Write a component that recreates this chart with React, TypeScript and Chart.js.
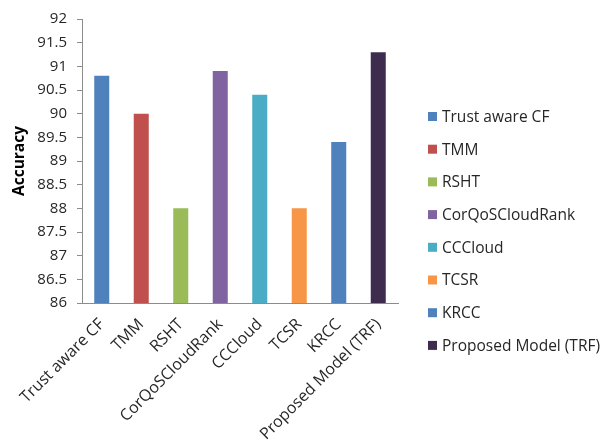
import { useEffect, useRef } from 'react';
import { Chart, registerables } from 'chart.js';

Chart.register(...registerables);

// Model names shown along the x axis and in the side legend
const categories = [
  'Trust aware CF',
  'TMM',
  'RSHT',
  'CorQoSCloudRank',
  'CCCloud',
  'TCSR',
  'KRCC',
  'Proposed Model (TRF)',
];

// Accuracy of each model
const accuracy = [90.8, 90.0, 88.0, 90.9, 90.4, 88.0, 89.4, 91.3];

// One fill per model
const barColors = ['#4F81BD', '#C0504D', '#9BBB59', '#8064A2', '#4BACC6', '#F79646', '#4F81BD', '#3E2C4F'];

// Value axis range
const yMin = 86;
const yMax = 92;
const yStep = 0.5;

const FONT = '"Open Sans", "Liberation Sans", sans-serif';
const TEXT = '#262626';
const AXIS = '#8C8C8C';

// Draws a one-column legend to the right of the plot
const sideLegend = {
  id: 'sideLegend',
  afterDraw(chart: any) {
    const { ctx, chartArea } = chart;
    ctx.save();
    ctx.font = `15.5px ${FONT}`;
    ctx.textBaseline = 'middle';
    ctx.textAlign = 'left';
    categories.forEach((name, i) => {
      const y = chartArea.top + 97.5 + i * 32.7;
      ctx.fillStyle = barColors[i];
      ctx.fillRect(chartArea.right + 30, y - 4.5, 9, 9);
      ctx.fillStyle = TEXT;
      ctx.fillText(name, chartArea.right + 44, y + 1);
    });
    ctx.restore();
  },
};

export default function App() {
  const canvasRef = useRef<HTMLCanvasElement | null>(null);

  useEffect(() => {
    document.body.style.margin = '0';
    const canvas = canvasRef.current;
    if (!canvas) return;

    const chart = new Chart(canvas, {
      type: 'bar',
      data: {
        labels: categories,
        datasets: [
          {
            label: 'Accuracy',
            data: accuracy,
            backgroundColor: barColors,
            categoryPercentage: 1,
            barPercentage: 0.38,
          },
        ],
      },
      options: {
        responsive: false,
        animation: false,
        layout: { padding: { left: 0, right: 207, top: 13, bottom: 0 } },
        plugins: {
          legend: { display: false },
          tooltip: { enabled: false },
        },
        scales: {
          x: {
            grid: { display: false },
            border: { display: true, color: AXIS, width: 1 },
            ticks: {
              color: TEXT,
              font: { family: FONT, size: 16 },
              minRotation: 45,
              maxRotation: 45,
              autoSkip: false,
              padding: 4,
            },
            afterFit(scale: any) {
              scale.height = 144;
            },
          },
          y: {
            min: yMin,
            max: yMax,
            grid: {
              drawOnChartArea: false,
              drawTicks: true,
              tickLength: 5,
              color: AXIS,
            },
            border: { display: true, color: AXIS, width: 1 },
            ticks: {
              stepSize: yStep,
              color: TEXT,
              font: { family: FONT, size: 15 },
              padding: 10,
              callback: (value: any) => String(Number(value)),
            },
            title: {
              display: true,
              text: 'Accuracy',
              color: '#000000',
              font: { family: FONT, size: 15.5, weight: 'bold' },
              padding: { top: 10, bottom: 0 },
            },
            afterFit(scale: any) {
              scale.width = 82;
            },
          },
        },
      },
      plugins: [sideLegend],
    });

    return () => chart.destroy();
  }, []);

  return (
    <div style={{ width: 605, height: 447, background: '#ffffff' }}>
      <canvas ref={canvasRef} width={605} height={447} />
    </div>
  );
}
